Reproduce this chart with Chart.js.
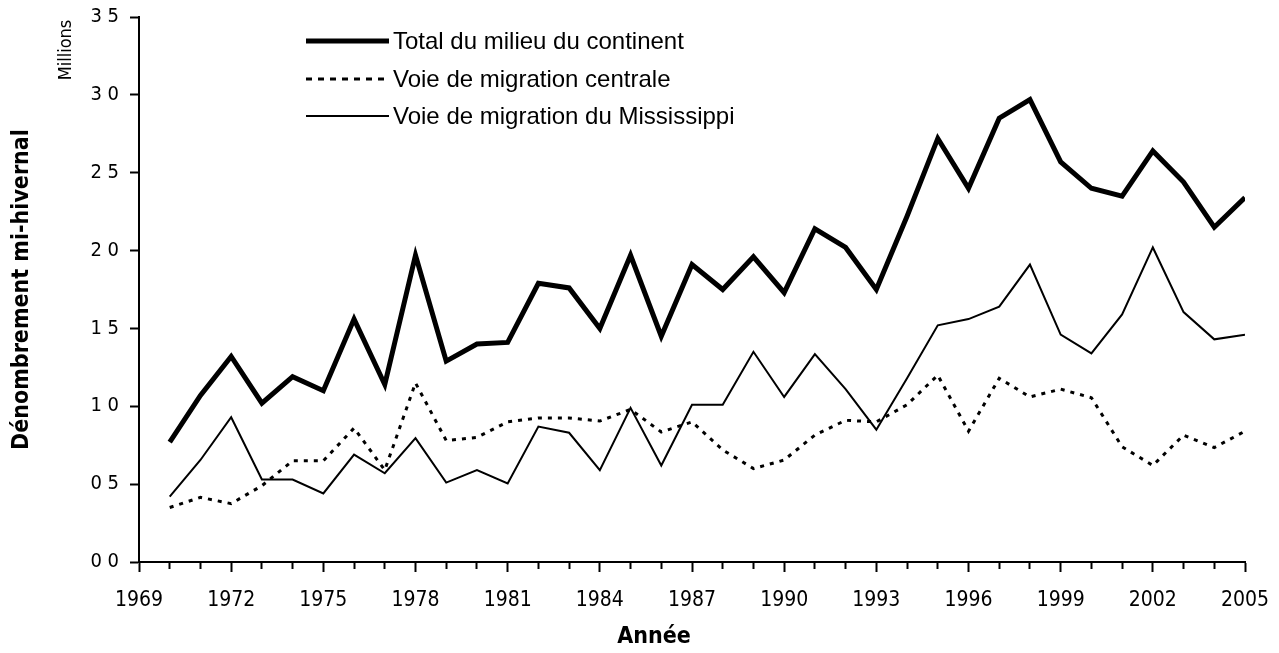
<!DOCTYPE html>
<html lang="fr">
<head>
<meta charset="utf-8">
<title>Dénombrement mi-hivernal</title>
<script src="https://cdn.jsdelivr.net/npm/chart.js@4.4.1/dist/chart.umd.min.js"></script>
<style>
  html, body { margin: 0; padding: 0; background: #fff; }
  #wrap { width: 1279px; height: 653px; }
</style>
</head>
<body>
<div id="wrap"><canvas id="countChart" width="1279" height="653"></canvas></div>
<script>
// Mid-winter counts, millions of birds
const years = [
  1970, 1971, 1972, 1973, 1974, 1975, 1976, 1977, 1978, 1979,
  1980, 1981, 1982, 1983, 1984, 1985, 1986, 1987, 1988, 1989,
  1990, 1991, 1992, 1993, 1994, 1995, 1996, 1997, 1998, 1999,
  2000, 2001, 2002, 2003, 2004, 2005,
];
const totalMidcontinent = [
  0.77, 1.07, 1.32, 1.02, 1.19, 1.10, 1.56, 1.14, 1.97, 1.29,
  1.40, 1.41, 1.79, 1.76, 1.50, 1.97, 1.45, 1.91, 1.75, 1.96,
  1.73, 2.14, 2.02, 1.75, 2.22, 2.72, 2.40, 2.85, 2.97, 2.57,
  2.40, 2.35, 2.64, 2.44, 2.15, 2.34,
];
const centralFlyway = [
  0.35, 0.415, 0.375, 0.49, 0.65, 0.65, 0.86, 0.59, 1.15, 0.78,
  0.80, 0.90, 0.925, 0.925, 0.905, 0.98, 0.835, 0.90, 0.72, 0.60,
  0.655, 0.815, 0.91, 0.90, 1.01, 1.20, 0.84, 1.18, 1.06, 1.11,
  1.055, 0.74, 0.62, 0.815, 0.735, 0.84,
];
const mississippiFlyway = [
  0.42, 0.655, 0.93, 0.53, 0.53, 0.44, 0.69, 0.57, 0.795, 0.51,
  0.59, 0.505, 0.87, 0.83, 0.59, 0.99, 0.62, 1.01, 1.01, 1.35,
  1.06, 1.335, 1.11, 0.85, 1.18, 1.52, 1.56, 1.64, 1.91, 1.46,
  1.34, 1.59, 2.02, 1.605, 1.43, 1.46,
];
const seriesNames = [
  "Total du milieu du continent",
  "Voie de migration centrale",
  "Voie de migration du Mississippi",
];
const xRange = [1969, 2005];
const yRange = [0, 3.5];

const narrow = '"Liberation Sans Narrow", "Arial Narrow", "DejaVu Sans Condensed", sans-serif';
const regular = '"Liberation Sans", Arial, sans-serif';

function toPoints(values) {
  return years.map((year, i) => ({ x: year, y: values[i] }));
}

function isLabelledYear(v) {
  return (v - xRange[0]) % 3 === 0;
}

// legend, unit note and x title drawn over the canvas
const annotations = {
  id: "annotations",
  afterDraw(chart) {
    const { ctx, chartArea } = chart;
    ctx.save();
    ctx.fillStyle = "#000";

    ctx.save();
    ctx.translate(66, 50);
    ctx.rotate(-Math.PI / 2);
    ctx.font = `18px ${narrow}`;
    ctx.textAlign = "center";
    ctx.textBaseline = "middle";
    ctx.fillText("Millions", 0, 0);
    ctx.restore();

    ctx.font = `bold 23px ${narrow}`;
    ctx.textAlign = "center";
    ctx.textBaseline = "middle";
    ctx.fillText("Année", 654, 637);

    const rowY = [41, 79, 116];
    const lineX = [chartArea.left + 167, chartArea.left + 250];
    ctx.font = `24px ${regular}`;
    ctx.textAlign = "left";
    chart.data.datasets.forEach((ds, i) => {
      ctx.beginPath();
      ctx.strokeStyle = "#000";
      ctx.lineWidth = ds.borderWidth;
      ctx.setLineDash(ds.borderDash ? [6, 6] : []);
      ctx.lineCap = "butt";
      ctx.moveTo(lineX[0], rowY[i]);
      ctx.lineTo(lineX[1], rowY[i]);
      ctx.stroke();
      ctx.fillText(ds.label, lineX[1] + 4, rowY[i] + 1);
    });
    ctx.restore();
  },
};

const chart = new Chart(document.getElementById("countChart"), {
  type: "line",
  data: {
    datasets: [
      {
        label: seriesNames[0],
        data: toPoints(totalMidcontinent),
        borderColor: "#000",
        borderWidth: 5,
      },
      {
        label: seriesNames[1],
        data: toPoints(centralFlyway),
        borderColor: "#000",
        borderWidth: 3,
        borderDash: [4, 6],
      },
      {
        label: seriesNames[2],
        data: toPoints(mississippiFlyway),
        borderColor: "#000",
        borderWidth: 2,
      },
    ],
  },
  plugins: [annotations],
  options: {
    responsive: false,
    animation: false,
    devicePixelRatio: 1,
    layout: { padding: { top: 17, right: 34, left: 0, bottom: 0 } },
    elements: {
      point: { radius: 0, hoverRadius: 0 },
      line: { tension: 0, borderJoinStyle: "miter", fill: false },
    },
    plugins: { legend: { display: false }, tooltip: { enabled: false } },
    scales: {
      x: {
        type: "linear",
        min: xRange[0],
        max: xRange[1],
        afterFit: (scale) => {
          scale.height = 91;
          scale.paddingLeft = 0;
          scale.paddingRight = 0;
        },
        grid: {
          drawOnChartArea: false,
          color: "#000",
          tickLength: 10,
          tickWidth: 2,
          // minor years get a shorter tick
          tickBorderDash: (ctx) => (ctx.tick && isLabelledYear(ctx.tick.value) ? [] : [6, 20]),
        },
        border: { color: "#000", width: 2 },
        ticks: {
          stepSize: 1,
          autoSkip: false,
          maxRotation: 0,
          padding: 16,
          color: "#000",
          font: { family: narrow, size: 21 },
          callback: (v) => (isLabelledYear(v) ? String(v) : ""),
        },
      },
      y: {
        min: yRange[0],
        max: yRange[1],
        afterFit: (scale) => {
          scale.width = 139;
          scale.paddingTop = 0;
          scale.paddingBottom = 0;
        },
        grid: { drawOnChartArea: false, color: "#000", tickLength: 9, tickWidth: 2 },
        border: { color: "#000", width: 2 },
        ticks: {
          stepSize: 0.5,
          padding: 11,
          color: "#000",
          font: { family: narrow, size: 20 },
          callback: (v) => v.toFixed(1).replace(".", " "),
        },
        title: {
          display: true,
          text: "Dénombrement mi-hivernal",
          color: "#000",
          padding: { top: 8, bottom: 0 },
          font: { family: narrow, size: 23, weight: "bold" },
        },
      },
    },
  },
});
</script>
</body>
</html>
